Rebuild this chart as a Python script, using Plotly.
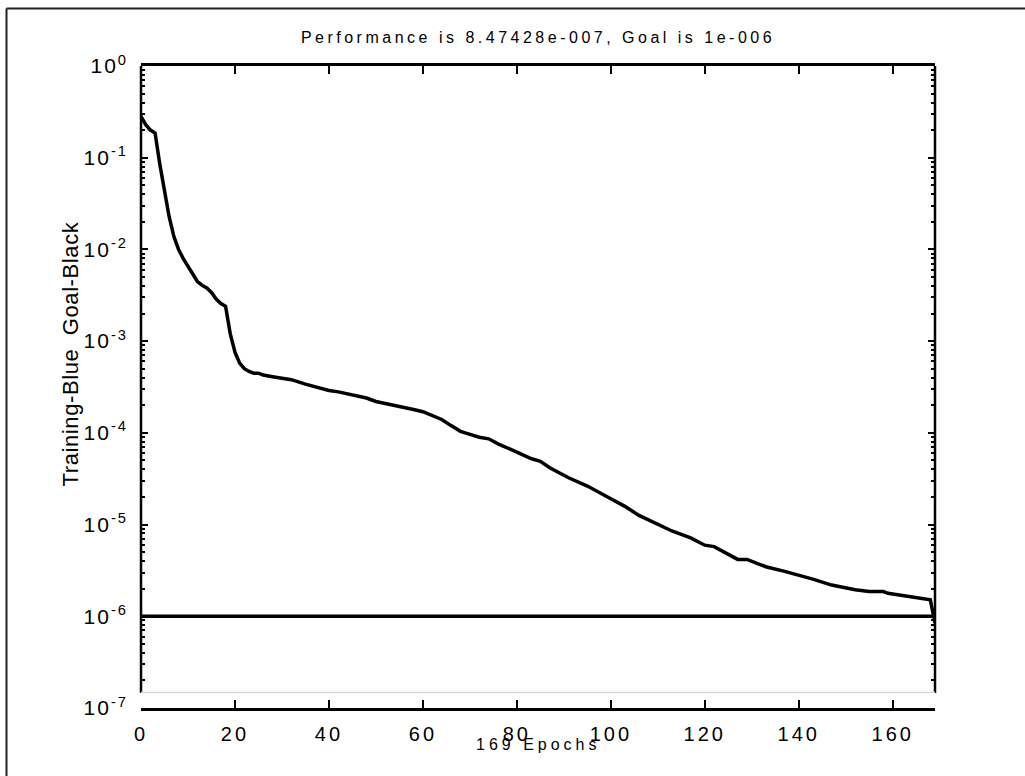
import plotly.graph_objects as go

# Training record: epoch number and mean squared error at that epoch
epochs = [0, 1, 2, 3, 4, 5, 6, 7, 8, 9, 10, 11, 12, 13, 14, 15, 16, 17, 18,
          19, 20, 21, 22, 23, 24, 25, 26, 28, 30, 32, 35, 38, 40, 42, 45, 48,
          50, 52, 55, 58, 60, 62, 64, 66, 68, 69, 72, 74, 76, 80, 83, 85, 87,
          91, 95, 100, 103, 106, 110, 113, 117, 120, 122, 124, 127, 129, 133,
          137, 140, 143, 147, 152, 155, 158, 159, 162, 165, 168, 169]
performance = [0.282, 0.229, 0.200, 0.186, 0.0851, 0.0457, 0.0226, 0.0138,
               0.0100, 0.00794, 0.00661, 0.00537, 0.00447, 0.00407, 0.00380,
               0.00339, 0.00288, 0.00257, 0.00240, 0.00120, 7.59e-4, 5.75e-4,
               5.01e-4, 4.68e-4, 4.47e-4, 4.47e-4, 4.27e-4, 4.10e-4, 3.98e-4,
               3.80e-4, 3.40e-4, 3.10e-4, 2.90e-4, 2.80e-4, 2.60e-4, 2.40e-4,
               2.20e-4, 2.10e-4, 1.95e-4, 1.80e-4, 1.70e-4, 1.55e-4, 1.40e-4,
               1.20e-4, 1.04e-4, 1.00e-4, 8.97e-5, 8.61e-5, 7.59e-5, 6.17e-5,
               5.25e-5, 4.90e-5, 4.17e-5, 3.24e-5, 2.63e-5, 1.91e-5, 1.58e-5,
               1.26e-5, 1.00e-5, 8.51e-6, 7.16e-6, 5.96e-6, 5.75e-6, 5.01e-6,
               4.17e-6, 4.17e-6, 3.47e-6, 3.09e-6, 2.82e-6, 2.54e-6, 2.19e-6,
               1.95e-6, 1.86e-6, 1.86e-6, 1.78e-6, 1.68e-6, 1.58e-6, 1.51e-6,
               8.47428e-7]
goal = 1e-6
n_epochs = 169

x_ticks = [0, 20, 40, 60, 80, 100, 120, 140, 160]
y_exponents = [-7, -6, -5, -4, -3, -2, -1, 0]

title_text = "Performance is 8.47428e-007, Goal is 1e-006"
xlabel_text = "169 Epochs"
ylabel_text = "Training-Blue  Goal-Black"

W, H = 1025, 776
L, R, T, B = 141, 90, 66, 68
plot_w = W - L - R
plot_h = H - T - B


def px_to_paper_x(px):
    return (px - L) / plot_w


def px_to_paper_y(py):
    return (H - B - py) / plot_h


regular = "Liberation Sans, Arial, Helvetica, sans-serif"

fig = go.Figure()

fig.add_trace(go.Scatter(
    x=[0, n_epochs], y=[goal, goal], mode="lines",
    line=dict(color="black", width=3.5), hoverinfo="skip", showlegend=False))

fig.add_trace(go.Scatter(
    x=epochs, y=performance, mode="lines",
    line=dict(color="black", width=3.5), showlegend=False))

y_vals = [10.0 ** e for e in y_exponents]
y_text = ["10<sup>%d</sup>" % e for e in y_exponents]
minor_vals = [k * 10.0 ** e for e in range(-7, 0) for k in range(2, 10)]

fig.update_xaxes(
    range=[0, n_epochs], tickvals=x_ticks, ticktext=[str(v) for v in x_ticks],
    ticks="inside", ticklen=8, tickwidth=2, tickcolor="black",
    showline=True, linewidth=2.5, linecolor="black", mirror="ticks",
    showgrid=False, zeroline=False, ticklabelstandoff=6,
    tickfont=dict(family=regular, size=20, color="black"))

fig.update_yaxes(
    type="log", range=[-7, 0], tickvals=y_vals, ticktext=y_text,
    ticks="inside", ticklen=7, tickwidth=2, tickcolor="black",
    minor=dict(tickvals=minor_vals, ticks="inside", ticklen=4,
               tickwidth=2, tickcolor="black", showgrid=False),
    showline=False, mirror="ticks", showgrid=False, zeroline=False,
    ticklabelstandoff=12,
    tickfont=dict(family=regular, size=21, color="black"))

axis_bottom = px_to_paper_y(693)
shapes = [
    # vertical axis lines stop short of the lowest decade
    dict(type="line", xref="paper", yref="paper", x0=0, x1=0,
         y0=axis_bottom, y1=1, line=dict(color="black", width=2.5)),
    dict(type="line", xref="paper", yref="paper", x0=1, x1=1,
         y0=axis_bottom, y1=1, line=dict(color="black", width=2.5)),
    dict(type="line", xref="paper", yref="paper", x0=0, x1=1,
         y0=px_to_paper_y(692.5), y1=px_to_paper_y(692.5),
         line=dict(color="#d9d9d9", width=1.5)),
    # figure frame: left and top edges
    dict(type="line", xref="paper", yref="paper",
         x0=px_to_paper_x(6.5), x1=px_to_paper_x(6.5),
         y0=px_to_paper_y(8.5), y1=px_to_paper_y(H),
         line=dict(color="#222222", width=2)),
    dict(type="line", xref="paper", yref="paper",
         x0=px_to_paper_x(6.5), x1=px_to_paper_x(W),
         y0=px_to_paper_y(8.5), y1=px_to_paper_y(8.5),
         line=dict(color="#222222", width=2)),
]

annotations = [
    dict(text=xlabel_text, xref="paper", yref="paper", x=0.5,
         y=px_to_paper_y(744), xanchor="center", yanchor="middle",
         showarrow=False, font=dict(family=regular, size=16, color="black")),
    dict(text=ylabel_text, xref="paper", yref="paper", x=px_to_paper_x(70),
         y=px_to_paper_y(354), xanchor="center", yanchor="middle",
         textangle=-90, showarrow=False,
         font=dict(family=regular, size=22, color="black")),
]

fig.update_layout(
    width=W, height=H, autosize=False,
    margin=dict(l=L, r=R, t=T, b=B),
    paper_bgcolor="white", plot_bgcolor="white",
    title=dict(text=title_text, x=0.5, xref="paper", y=1 - 37 / H,
               yref="container", xanchor="center", yanchor="middle",
               font=dict(family=regular, size=16, color="black")),
    shapes=shapes, annotations=annotations,
)

spacing_js = """
var gd = document.getElementsByClassName('plotly-graph-div')[0];
function spread() {
  gd.querySelectorAll('.gtitle').forEach(function(t){ t.style.letterSpacing = '3.5px'; });
  gd.querySelectorAll('.annotation-text').forEach(function(t){
    if (t.textContent.indexOf('Epochs') >= 0) { t.style.letterSpacing = '4px'; }
    else { t.style.letterSpacing = '0.6px'; }
  });
  gd.querySelectorAll('.xtick text').forEach(function(t){ t.style.letterSpacing = '3px'; });
  gd.querySelectorAll('.ytick text').forEach(function(t){ t.style.letterSpacing = '2px'; });
}
spread();
gd.on('plotly_afterplot', spread);
"""

fig.write_html("out.html", post_script=spacing_js)
